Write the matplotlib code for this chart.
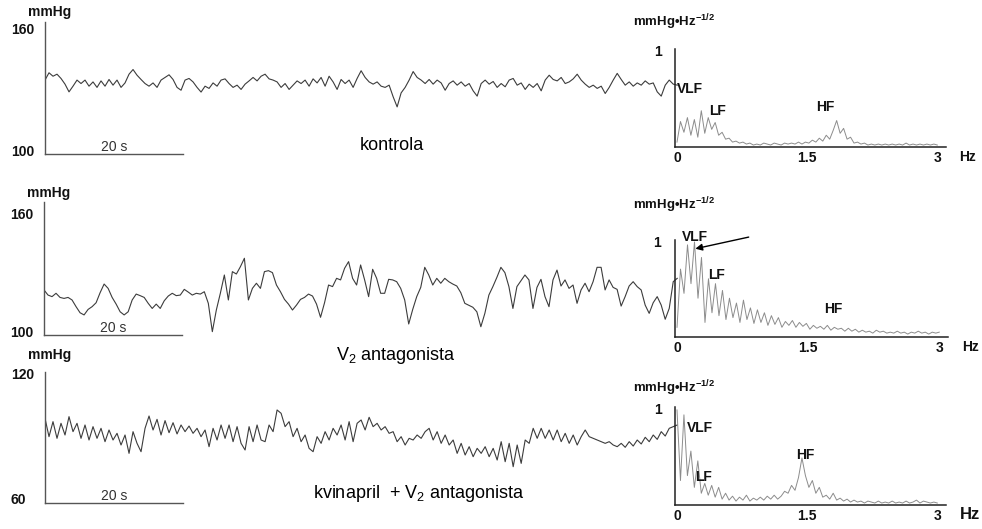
import numpy as np
import matplotlib
matplotlib.use("Agg")
from matplotlib import pyplot as plt

plt.rcParams['font.family'] = ['Liberation Sans', 'DejaVu Sans']
plt.rcParams['mathtext.fontset'] = 'custom'
plt.rcParams['mathtext.rm'] = 'Liberation Sans'
plt.rcParams['mathtext.bf'] = 'Liberation Sans:bold'

# krvni tlak (mmHg), uzorci svakih ~0.58 s
tlak_kontrola = [
    135.4, 139, 137.3, 138.3, 136.2, 133.4, 129.6, 132.4, 135.4, 133.7,
    135.4, 132.4, 134.5, 131.8, 135, 132.4, 135.7, 132.9, 135.4, 131.8,
    134, 138.3, 140.6, 137.8, 135.7, 133.7, 132.4, 134, 131.8, 135.4,
    136.7, 138, 135.7, 131.8, 130.4, 135.4, 136.2, 134.5, 131.8, 129.5,
    132.4, 131.3, 134, 132.4, 135.4, 136, 133.7, 131.8, 132.9, 130.8,
    133.4, 135, 136.7, 135, 137.3, 138.3, 136, 135.4, 134.5, 131.8,
    133.7, 130.8, 132.9, 135, 133.7, 135.4, 132.4, 136, 134, 136.7,
    132.4, 137.3, 134.5, 130.8,
    135.7, 133.7, 135.4, 131.8, 136.2, 140, 136.7, 134.5, 133.4, 134.5,
    132.4, 131.8, 132.9, 127.2, 122.2, 129.1, 131.8, 135.4, 139.6, 136.7,
    135.4, 133.7, 135.7, 133.4, 135.4, 134, 130.4, 133.7, 135, 132.9,
    134.5, 132.4, 133.7, 130.1, 127.5, 133.7, 135.4, 133.4, 134.7, 131.8,
    133.7, 132.1, 135.4, 136.2, 132.9, 134, 130.8, 133.4, 131.8, 133.7,
    130.1, 135.4, 137.8, 135.7, 135, 136.7, 133.7, 134.5, 136, 138.3,
    135.4, 133.4, 131.8, 132.9, 131.3, 132.4, 128.8, 131.8, 135.4, 138.7,
    135.7, 132.9, 134.5, 132.4, 134, 132.9, 135, 133.4, 134, 129.6,
    127.5, 132.9, 135.4, 133.4, 132.9,
]

tlak_v2 = [
    121.9, 119.3, 118.5, 120.2, 118.1, 117.6, 118.1, 116.8, 113.4, 110.3,
    109.2, 112, 113.4, 115.4, 120.5, 124.9, 122.7, 118.1, 114.7, 110.8,
    109.2, 110.8, 116.8, 119.8, 119, 118.1, 115.1, 112.5, 114.7, 112.5,
    116.4, 118.8, 120.2, 119, 119.3, 122.2, 120.8, 119.3, 120.2, 119.8,
    121, 115.1, 100.7, 111.7, 120.2, 129.5, 116.8, 131.2, 130, 133.7,
    138, 116.8, 122.7, 125.3, 122.7, 131.2, 131.7, 130.7, 124.4, 121,
    117.1, 114.7, 111.7, 114.2, 117.1, 118.1, 119.8, 118.8, 114.7, 108,
    115.4, 124.4, 123.6, 127.8,
    127, 132.9, 136.3, 127.8, 124.4, 134.6, 127, 118.5, 132.4, 127.8,
    120.2, 120.2, 127.3, 127, 126.1, 122.7, 116.8, 104.6, 112, 118.5,
    123.2, 133.4, 129.5, 124.4, 127.8, 125.3, 127.8, 126.1, 124.9, 123.9,
    120.5, 115.1, 114.1, 113.1, 110.8, 103.2, 110, 119.3, 123.6, 128.3,
    133.4, 130.7, 123.6, 112.5, 123.6, 126.6, 129.5, 127, 112.5, 123.2,
    127.3, 118.5, 113.4, 127, 132, 123.9, 127, 122.7, 124.4, 115.1,
    121.9, 125.3, 121, 126.1, 133.4, 133.4, 121.9, 127, 123.2, 122.2,
    113.7, 118.5, 123.9, 126.1, 123.6, 121.9, 114.2, 110, 115.4, 118.5,
    114.2, 107, 112.5, 126.1, 127.8,
]

tlak_kvinapril = [
    99.2, 90.4, 97.6, 89.6, 96.8, 91.2, 100, 92.8, 96.8, 89.6,
    96, 88.8, 95.2, 89.6, 94.4, 88, 93.6, 88.8, 92, 86.4,
    91.2, 82.4, 92.8, 87.2, 83.2, 94.4, 100.3, 93.6, 98.7, 91.2,
    98.1, 92.3, 97.1, 91.7, 96, 92.8, 95.5, 92, 94.4, 90.4,
    93.6, 85.6, 94.4, 88.8, 96, 89.6, 96, 88, 95.2, 87.2,
    84, 95.2, 88, 96, 88.8, 88, 96, 92.8, 103.2, 101.6,
    95.2, 97.6, 90.4, 94.4, 88, 91.2, 84.8, 83.2, 90.4, 87.2,
    92.8, 88.8, 94.4, 91.2,
    96, 88.8, 97.6, 88, 96.8, 98.4, 93.6, 99.7, 95.2, 96.8,
    93.6, 95.2, 92, 92.8, 88, 90.4, 86.4, 89.6, 88.8, 91.2,
    89.6, 92.8, 94.4, 88.8, 92.8, 87.2, 91.2, 86.4, 88.8, 82.4,
    87.2, 81.6, 85.6, 80.8, 84.8, 82.4, 85.6, 80.8, 84.8, 79.2,
    88, 78.4, 87.2, 76, 86.4, 77.6, 88.8, 87.2, 94.4, 89.6,
    94.4, 89.6, 93.6, 88.8, 93.6, 88, 92, 87.2, 91.2, 86.4,
    90.4, 93.6, 90.4, 89.6, 88.8, 88, 87.2, 88, 86.4, 85.6,
    87.2, 85.3, 88, 85.9, 88.8, 86.9, 90.1, 88, 91.2, 89.1,
    92.8, 90.7, 94.4, 95.2, 96,
]

# amplitudni spektar (mmHg*Hz^-1/2), korak 0.04 Hz od 0 do 3 Hz
spektar_kontrola = [
    0.05, 0.26, 0.15, 0.30, 0.12, 0.28, 0.10, 0.37, 0.14, 0.30,
    0.18, 0.25, 0.12, 0.15, 0.08, 0.09, 0.05, 0.06, 0.04, 0.05,
    0.03, 0.04, 0.02, 0.03, 0.02, 0.04, 0.03, 0.02, 0.04, 0.03,
    0.02, 0.04, 0.03, 0.04, 0.03, 0.05, 0.03, 0.05, 0.04, 0.07,
    0.05, 0.09, 0.06, 0.12, 0.08, 0.17, 0.27, 0.14, 0.19, 0.08,
    0.10, 0.04, 0.05, 0.03, 0.04, 0.02, 0.03, 0.02, 0.03, 0.02,
    0.03, 0.02, 0.03, 0.02, 0.03, 0.02, 0.04, 0.02, 0.03, 0.02,
    0.03, 0.02, 0.03, 0.02, 0.03, 0.02,
]

spektar_v2 = [
    0.10, 0.70, 0.45, 0.95, 0.55, 0.98, 0.40, 0.82, 0.15, 0.60,
    0.25, 0.55, 0.22, 0.48, 0.18, 0.40, 0.20, 0.35, 0.15, 0.38,
    0.18, 0.30, 0.14, 0.28, 0.15, 0.25, 0.12, 0.22, 0.13, 0.20,
    0.10, 0.16, 0.12, 0.17, 0.10, 0.15, 0.11, 0.14, 0.08, 0.12,
    0.09, 0.11, 0.08, 0.12, 0.07, 0.10, 0.08, 0.09, 0.06, 0.09,
    0.06, 0.08, 0.05, 0.07, 0.05, 0.06, 0.04, 0.07, 0.05, 0.06,
    0.04, 0.05, 0.04, 0.06, 0.04, 0.05, 0.03, 0.05, 0.04, 0.06,
    0.04, 0.05, 0.03, 0.05, 0.04, 0.05,
]

spektar_kvinapril = [
    0.97, 0.25, 0.92, 0.30, 0.55, 0.18, 0.45, 0.12, 0.22, 0.10,
    0.20, 0.08, 0.18, 0.06, 0.12, 0.05, 0.09, 0.04, 0.08, 0.05,
    0.10, 0.04, 0.07, 0.05, 0.08, 0.05, 0.09, 0.06, 0.10, 0.06,
    0.09, 0.14, 0.12, 0.20, 0.15, 0.28, 0.48, 0.30, 0.18, 0.25,
    0.12, 0.18, 0.08, 0.10, 0.06, 0.12, 0.05, 0.07, 0.04, 0.06,
    0.03, 0.05, 0.03, 0.04, 0.02, 0.04, 0.03, 0.02, 0.04, 0.02,
    0.03, 0.02, 0.04, 0.02, 0.03, 0.02, 0.04, 0.02, 0.03, 0.05,
    0.02, 0.04, 0.03, 0.02, 0.03, 0.02,
]

W, H = 982, 529
fig = plt.figure(figsize=(W / 100, H / 100), dpi=100)


def rect(l, t, r, b):
    # pravokutnik u pikselima -> koordinate figure
    return [l / W, 1 - b / H, (r - l) / W, (b - t) / H]


def tekst(x, y, s, **kw):
    kw.setdefault('va', 'center')
    fig.text(x / W, 1 - y / H, s, **kw)


BOLD = dict(fontsize=10, fontweight='bold', color='#111111')


def vremenski(box, tlak, ylim, oznake, y_mmhg):
    ax = fig.add_axes(rect(*box))
    ax.set_facecolor('none')
    t = np.linspace(0, 91.6, len(tlak))
    ax.plot(t, tlak, color='#3c3c3c', lw=0.8)
    ax.set_xlim(0, 92)
    ax.set_ylim(*ylim)
    for s in ['top', 'right']:
        ax.spines[s].set_visible(False)
    ax.spines['bottom'].set_bounds(0, 20)
    for s in ['left', 'bottom']:
        ax.spines[s].set_color('#555555')
        ax.spines[s].set_linewidth(1.0)
    ax.set_xticks([])
    ax.set_yticks([])
    tr = ax.get_yaxis_transform()
    for v in oznake:
        ax.text(-0.054, v, str(v), transform=tr, ha='left', va='center', **BOLD)
    tekst(box[0] - 17, y_mmhg, 'mmHg', ha='left', **BOLD)
    ax.text(10, ylim[0], '20 s', ha='center', va='bottom', fontsize=10,
            color='#333333')
    return ax


def spektralni(box, spektar, y_naslov, vlf, lf, hf, hz_size=10):
    ax = fig.add_axes(rect(*box))
    ax.set_facecolor('none')
    f = np.linspace(0, 3, len(spektar))
    ax.plot(f, spektar, color='#8c8c8c', lw=0.7)
    ax.set_xlim(-0.023, 3.1)
    ax.set_ylim(0, 1)
    for s in ['top', 'right']:
        ax.spines[s].set_visible(False)
    for s in ['left', 'bottom']:
        ax.spines[s].set_color('#222222')
        ax.spines[s].set_linewidth(1.1)
    ax.set_yticks([])
    ax.set_xticks([0, 1.5, 3])
    ax.set_xticklabels(['0', '1.5', '3'], **BOLD)
    ax.tick_params(axis='x', length=0, pad=3)
    ax.text(-0.05, 0.97, '1', transform=ax.transAxes, ha='right', va='center', **BOLD)
    ax.text(1.05, -0.1, 'Hz', transform=ax.transAxes, ha='left', va='center',
            fontsize=hz_size, fontweight='bold', color='#111111')
    tekst(box[0] - 42, y_naslov, r'mmHg•Hz$^{\mathbf{-1/2}}$', ha='left',
          fontsize=9.5, fontweight='bold', color='#111111')
    tekst(vlf[0], vlf[1], 'VLF', ha='left', **BOLD)
    tekst(lf[0], lf[1], 'LF', ha='left', **BOLD)
    tekst(hf[0], hf[1], 'HF', ha='left', **BOLD)
    return ax


# kontrola
vremenski((45, 22, 680, 154), tlak_kontrola, (99, 164), [160, 100], 12)
spektralni((675, 49, 946, 147), spektar_kontrola, 22, (677, 89), (709, 111), (816, 107))
tekst(360, 146, 'kontrola', ha='left', fontsize=13)

# V2 antagonista
vremenski((44, 202, 680, 335), tlak_v2, (99, 166.6), [160, 100], 193)
ax2 = spektralni((675, 240, 948, 337), spektar_v2, 205, (682, 237), (708, 275), (824, 309))
ax2.annotate('', xy=(0.21, 0.91), xytext=(0.82, 1.03),
             arrowprops=dict(arrowstyle='-|>', color='black', lw=1.0,
                             mutation_scale=10, shrinkA=0, shrinkB=0),
             annotation_clip=False)
tekst(336, 356, r'V$_{\mathregular{2}}$ antagonista', ha='left', fontsize=13)

# kvinapril + V2 antagonista
vremenski((45, 372, 680, 503), tlak_kvinapril, (58.6, 121.4), [120, 60], 355)
spektralni((675, 407, 946, 505), spektar_kvinapril, 388, (687, 428), (695, 477), (796, 455),
           hz_size=12)
tekst(313, 493, r'kvinapril  + V$_{\mathregular{2}}$ antagonista', ha='left', fontsize=13)

fig.savefig('out.png', dpi=100, facecolor='white')
